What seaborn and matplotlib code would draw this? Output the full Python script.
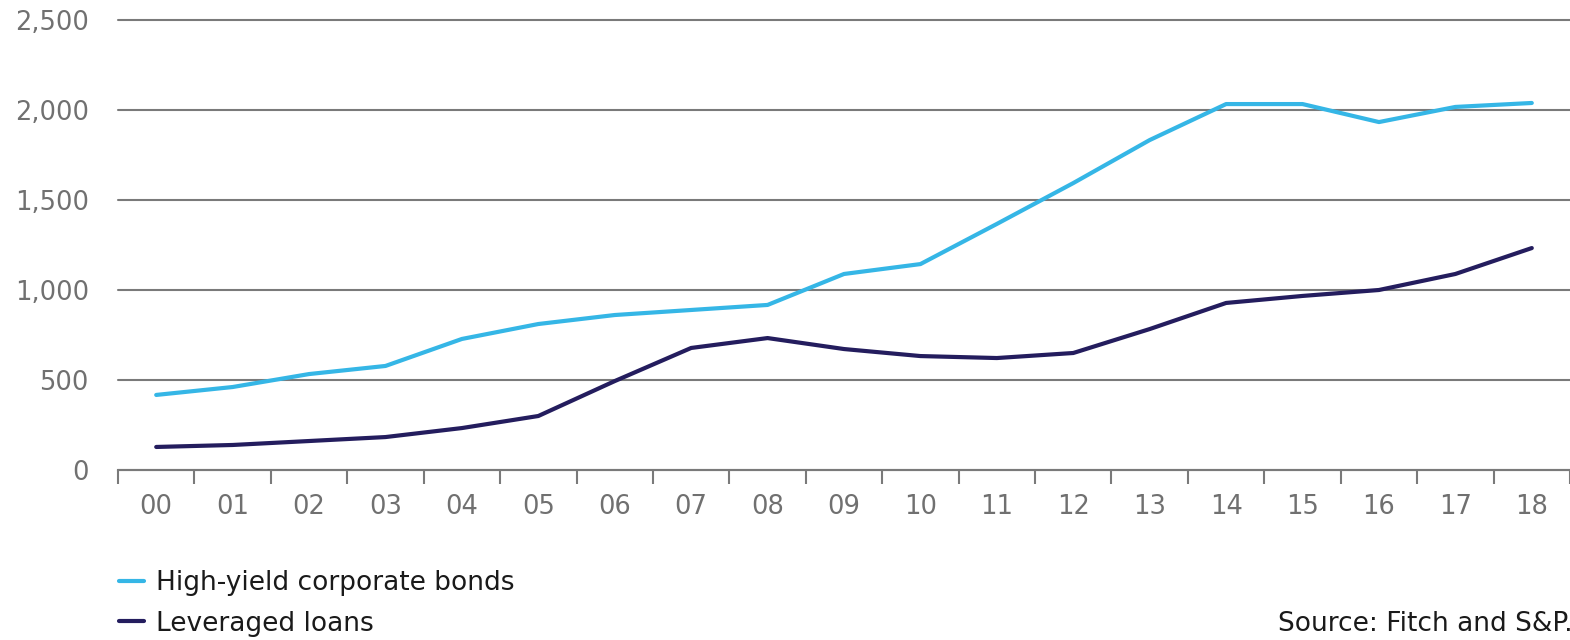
import matplotlib
matplotlib.use("Agg")
import matplotlib.pyplot as plt
import seaborn as sns
import pandas as pd
import numpy as np
from matplotlib.lines import Line2D

years = ["00", "01", "02", "03", "04", "05", "06", "07", "08", "09",
         "10", "11", "12", "13", "14", "15", "16", "17", "18"]
high_yield = [417, 461, 533, 578, 728, 811, 861, 889, 917, 1089,
              1144, 1367, 1594, 1833, 2033, 2033, 1933, 2017, 2039]
leveraged = [128, 139, 161, 183, 233, 300, 494, 678, 733, 672,
             633, 622, 650, 783, 928, 967, 1000, 1089, 1233]
series_names = ["High-yield corporate bonds", "Leveraged loans"]
colors = ["#35b6e6", "#241d5e"]
yticks = [0, 500, 1000, 1500, 2000, 2500]

sns.set_theme(style="white")
plt.rcParams['font.family'] = ['DejaVu Sans']

df = pd.DataFrame({
    "x": list(range(len(years))) * 2,
    "value": high_yield + leveraged,
    "series": [series_names[0]] * len(years) + [series_names[1]] * len(years),
})

fig = plt.figure(figsize=(15.7, 6.4), dpi=100)
ax = fig.add_axes([118/1570, 1 - 470/640, 1 - 118/1570, 450/640])

sns.lineplot(data=df, x="x", y="value", hue="series", palette=colors,
             linewidth=3, ax=ax, legend=False, solid_capstyle="round")

ax.set_xlim(-0.5, len(years) - 0.5)
ax.set_ylim(0, 2500)
ax.set_yticks(yticks)
ax.set_yticklabels([f"{v:,}" for v in yticks])
ax.yaxis.grid(True, color="#7a7a7a", linewidth=1.5)
for gl in ax.yaxis.get_gridlines():
    gl.set_clip_on(False)
ax.set_axisbelow(True)

ax.set_xticks(range(len(years)))
ax.set_xticklabels(years)
ax.set_xticks(np.arange(-0.5, len(years)), minor=True)
ax.tick_params(axis="x", which="major", bottom=False, length=0, pad=17, labelsize=18.5, labelcolor="#707070")
ax.tick_params(axis="x", which="minor", bottom=True, length=10, width=1.5, color="#7a7a7a", direction="out")
ax.tick_params(axis="y", length=0, pad=21, labelsize=18.5, labelcolor="#707070")
ax.set_xlabel("")
ax.set_ylabel("")
for s in ["top", "right", "left"]:
    ax.spines[s].set_visible(False)
ax.spines["bottom"].set_color("#7a7a7a")
ax.spines["bottom"].set_linewidth(1.5)

handles = [Line2D([], [], color=c, linewidth=3) for c in colors]
fig.legend(handles, series_names, loc="upper left", bbox_to_anchor=(119/1570, 1 - 570/640),
           frameon=False, fontsize=19, handlelength=0.95, handletextpad=0.45,
           labelspacing=0.55, labelcolor="#1a1a1a", borderpad=0, borderaxespad=0)

fig.text(1278/1570, 1 - 624/640, "Source: Fitch and S&P.", fontsize=19, color="#1a1a1a",
         ha="left", va="center")

fig.savefig("out.png", dpi=100)
